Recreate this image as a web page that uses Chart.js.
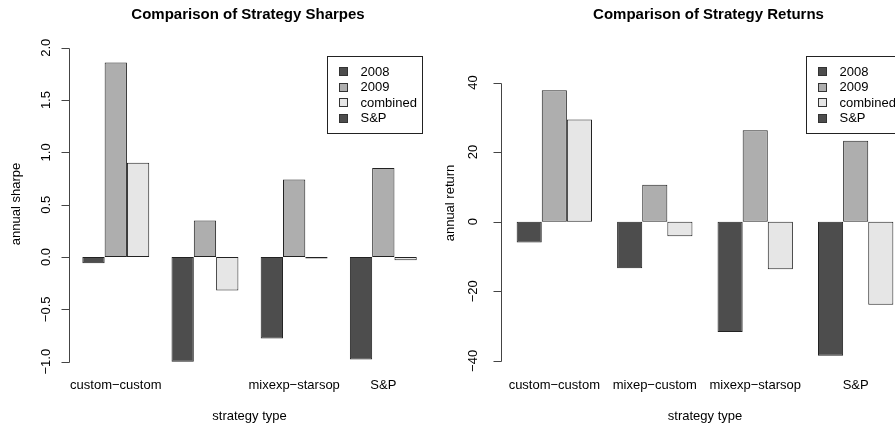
<!DOCTYPE html>
<html>
<head>
<meta charset="utf-8">
<script src="https://cdn.jsdelivr.net/npm/chart.js@4.4.0/dist/chart.umd.min.js"></script>
<style>
    html, body { margin: 0; padding: 0; background: #fff; overflow: hidden; }
    #wrap { position: relative; width: 895px; height: 424px; }
    .panel { position: absolute; top: 0; }
</style>
</head>
<body>
<div id="wrap">
    <div class="panel" style="left:0"><canvas id="sharpeChart" width="440" height="424"></canvas></div>
    <div class="panel" style="left:430px"><canvas id="returnChart" width="487" height="424"></canvas></div>
</div>
<script>
// strategy types (x categories)
const strategies = ['custom-custom', 'mixep-custom', 'mixexp-starsop', 'S&P'];

// series + legend entries (legend has an extra S&P row in the original)
const seriesNames = ['2008', '2009', 'combined'];
const legendLabels = ['2008', '2009', 'combined', 'S&P'];
const seriesColors = ['#4D4D4D', '#AEAEAE', '#E6E6E6'];

// annual sharpe
const sharpe2008 = [-0.06, -1.00, -0.78, -0.98];
const sharpe2009 = [1.86, 0.35, 0.74, 0.85];
const sharpeCombined = [0.90, -0.32, -0.015, -0.03];
const sharpeTicks = [-1, -0.5, 0, 0.5, 1, 1.5, 2];

// annual return
const return2008 = [-6.0, -13.4, -31.7, -38.5];
const return2009 = [37.8, 10.6, 26.3, 23.3];
const returnCombined = [29.4, -4.2, -13.7, -23.9];
const returnTicks = [-40, -20, 0, 20, 40];

const FONT = '"Liberation Sans", Arial, Helvetica, sans-serif';
const FONT_SIZE = 13;

// R-ish title, y axis, y label and legend drawn on top of the chart
const rAxesPlugin = {
    id: 'rAxes',
    afterDraw(chart, args, opts) {
        const ctx = chart.ctx,
            y = chart.scales.y,
            ticks = opts.ticks;

        ctx.save();
        ctx.fillStyle = '#000';
        ctx.textAlign = 'center';
        ctx.textBaseline = 'middle';

        // main title
        ctx.font = 'bold 15px ' + FONT;
        ctx.fillText(opts.title, opts.titleX, 15);

        // axis line and tick marks
        const px = v => Math.round(y.getPixelForValue(v)) + 0.5;
        const ax = opts.axisX + 0.5;
        ctx.strokeStyle = '#444';
        ctx.lineWidth = 1;
        ctx.beginPath();
        ctx.moveTo(ax, px(ticks[0]));
        ctx.lineTo(ax, px(ticks[ticks.length - 1]));
        ticks.forEach(v => {
            ctx.moveTo(ax, px(v));
            ctx.lineTo(ax - 8, px(v));
        });
        ctx.stroke();

        // tick labels, rotated like R's default las=0
        ctx.font = FONT_SIZE + 'px ' + FONT;
        ticks.forEach(v => {
            ctx.save();
            ctx.translate(opts.labelX, y.getPixelForValue(v));
            ctx.rotate(-Math.PI / 2);
            ctx.fillText(v.toFixed(opts.decimals).replace('-', '\u2212'), 0, 0);
            ctx.restore();
        });

        // y axis title
        ctx.save();
        ctx.translate(opts.yTitleX, opts.yTitleY);
        ctx.rotate(-Math.PI / 2);
        ctx.fillText(opts.yTitle, 0, 0);
        ctx.restore();

        // legend
        const lx = opts.legendX;
        ctx.strokeStyle = '#222';
        ctx.strokeRect(lx + 0.5, 56.5, 95, 77);
        ctx.textAlign = 'left';
        legendLabels.forEach((lbl, i) => {
            const cy = 71.7 + i * 15.5;
            ctx.fillStyle = seriesColors[i % seriesColors.length];
            ctx.fillRect(lx + 12, Math.round(cy - 4.5), 9, 9);
            ctx.strokeStyle = '#333';
            ctx.strokeRect(lx + 12.5, Math.round(cy - 4.5) + 0.5, 8, 8);
            ctx.fillStyle = '#000';
            ctx.fillText(lbl, lx + 33.5, cy + 0.5);
        });

        ctx.restore();
    }
};

// Build one R style barplot panel
const createPanel = (id, p) => {
    const ctx = document.getElementById(id).getContext('2d');
    return new Chart(ctx, {
        type: 'bar',
        data: {
            labels: strategies,
            datasets: p.series.map((vals, i) => ({
                label: seriesNames[i],
                data: vals,
                backgroundColor: seriesColors[i],
                borderColor: '#222',
                borderWidth: 1,
                borderSkipped: false,
                categoryPercentage: 0.75,
                barPercentage: 1.0
            }))
        },
        options: {
            responsive: false,
            animation: false,
            layout: {
                padding: { left: p.areaLeft, right: p.padRight, top: 42, bottom: 0 }
            },
            scales: {
                x: {
                    grid: { display: false, drawTicks: false },
                    border: { display: false },
                    afterFit: scale => { scale.height = 52; },
                    ticks: {
                        autoSkip: false,
                        maxRotation: 0,
                        minRotation: 0,
                        padding: 6,
                        color: '#000',
                        font: { family: FONT, size: FONT_SIZE },
                        callback: (val, i) => p.hideLabels.includes(i) ? '' : strategies[i].replace(/-/g, '\u2212')
                    },
                    title: {
                        display: true,
                        text: 'strategy type',
                        color: '#000',
                        font: { family: FONT, size: FONT_SIZE },
                        padding: { top: 0, bottom: 0 }
                    }
                },
                y: {
                    display: false,
                    min: p.min,
                    max: p.max
                }
            },
            plugins: {
                legend: { display: false },
                tooltip: { enabled: false },
                rAxes: p.axes
            }
        },
        plugins: [rAxesPlugin]
    });
};

createPanel('sharpeChart', {
    series: [sharpe2008, sharpe2009, sharpeCombined],
    hideLabels: [1],
    areaLeft: 71.2,
    padRight: 12.1,
    min: -1.099,
    max: 2.055,
    axes: {
        title: 'Comparison of Strategy Sharpes',
        titleX: 248,
        ticks: sharpeTicks,
        decimals: 1,
        axisX: 69,
        labelX: 46.5,
        yTitle: 'annual sharpe',
        yTitleX: 16,
        yTitleY: 204,
        legendX: 327
    }
});

createPanel('returnChart', {
    series: [return2008, return2009, returnCombined],
    hideLabels: [],
    areaLeft: 74.1,
    padRight: 11.1,
    min: -43.2,
    max: 51.65,
    axes: {
        title: 'Comparison of Strategy Returns',
        titleX: 278.5,
        ticks: returnTicks,
        decimals: 0,
        axisX: 71,
        labelX: 43.3,
        yTitle: 'annual return',
        yTitleX: 20,
        yTitleY: 203,
        legendX: 376
    }
});
</script>
</body>
</html>
